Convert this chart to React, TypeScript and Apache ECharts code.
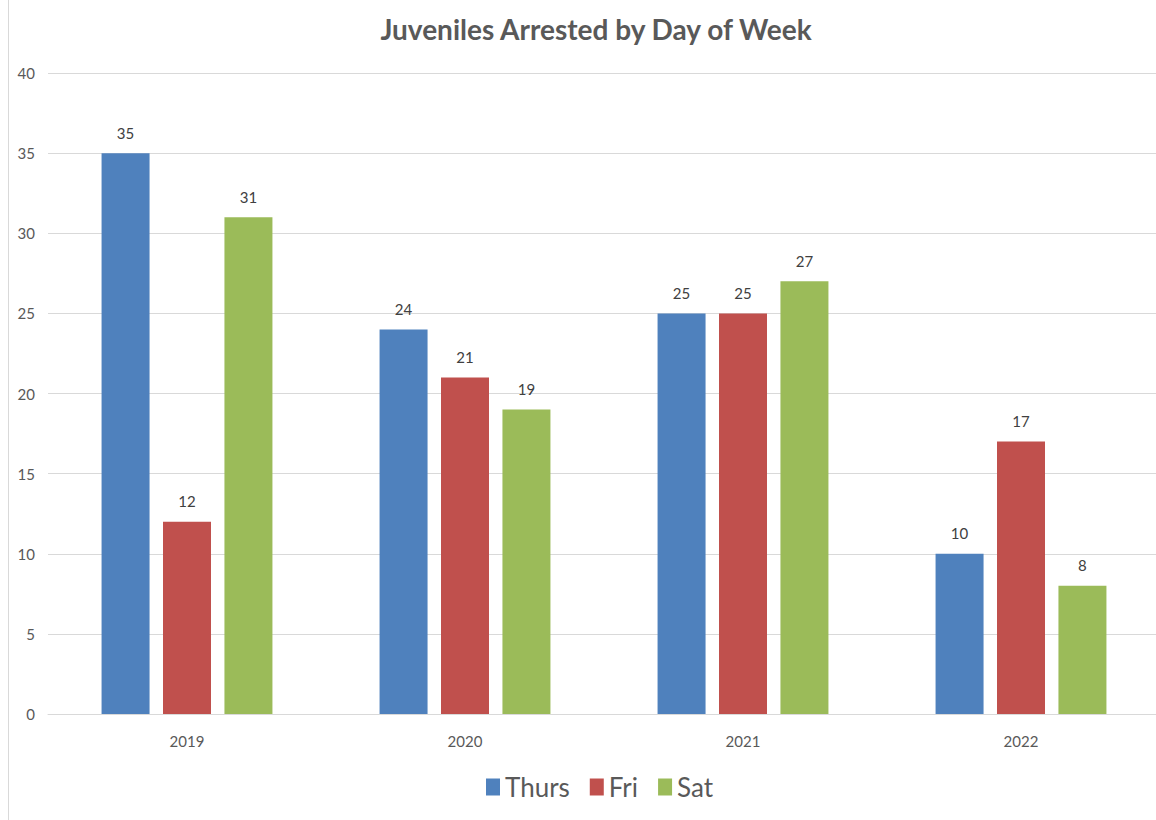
import React, { useEffect, useRef } from "react";
import * as echarts from "echarts";

const categories = ["2019", "2020", "2021", "2022"];
const thursValues = [35, 24, 25, 10];
const friValues = [12, 21, 25, 17];
const satValues = [31, 19, 27, 8];
const seriesNames = ["Thurs", "Fri", "Sat"];
const seriesColors = ["#4F81BD", "#C0504D", "#9BBB59"];

const FONT = "Lato, 'Open Sans', 'Noto Sans', sans-serif";

export default function App() {
  const ref = useRef<HTMLDivElement>(null);
  useEffect(() => {
    if (!ref.current) return;
    const chart = echarts.init(ref.current, undefined, { renderer: "svg" });
    const values = [thursValues, friValues, satValues];
    chart.setOption({
      animation: false,
      backgroundColor: "#ffffff",
      textStyle: { fontFamily: FONT },
      title: {
        text: "Juveniles Arrested by Day of Week",
        left: 591,
        top: 10,
        textAlign: "center",
        textStyle: { fontFamily: FONT, fontSize: 28, fontWeight: "bold", color: "#595959" },
      },
      legend: {
        bottom: 15,
        left: 481,
        itemWidth: 14,
        itemHeight: 17,
        itemGap: 20,
        icon: "rect",
        textStyle: { fontFamily: FONT, fontSize: 26, color: "#595959" },
        data: seriesNames,
      },
      graphic: [
        {
          type: "line",
          shape: { x1: 8.5, y1: 0, x2: 8.5, y2: 820 },
          style: { stroke: "#d9d9d9", lineWidth: 1 },
        },
      ],
      grid: {
        left: 48,
        width: 1112,
        top: 73,
        bottom: 106,
        containLabel: false,
        outerBoundsMode: "none",
      },
      xAxis: {
        type: "category",
        data: categories,
        axisLine: { lineStyle: { color: "#d9d9d9" } },
        axisTick: { show: false },
        axisLabel: { fontFamily: FONT, fontSize: 15, color: "#595959", margin: 19 },
      },
      yAxis: {
        type: "value",
        min: 0,
        max: 40,
        interval: 5,
        axisLine: { show: false },
        axisTick: { show: false },
        splitLine: { lineStyle: { color: "#d9d9d9" } },
        axisLabel: { fontFamily: FONT, fontSize: 15, color: "#595959", margin: 13 },
      },
      series: seriesNames.map((name, i) => ({
        name,
        type: "bar",
        data: values[i],
        barWidth: 48,
        barGap: "28%",
        itemStyle: { color: seriesColors[i] },
        label: {
          show: true,
          position: "top",
          distance: 13,
          fontFamily: FONT,
          fontSize: 15,
          color: "#404040",
        },
      })),
    });
    return () => chart.dispose();
  }, []);
  return (
    <div
      ref={ref}
      style={{ position: "fixed", left: 0, top: 0, width: 1156, height: 820 }}
    />
  );
}
